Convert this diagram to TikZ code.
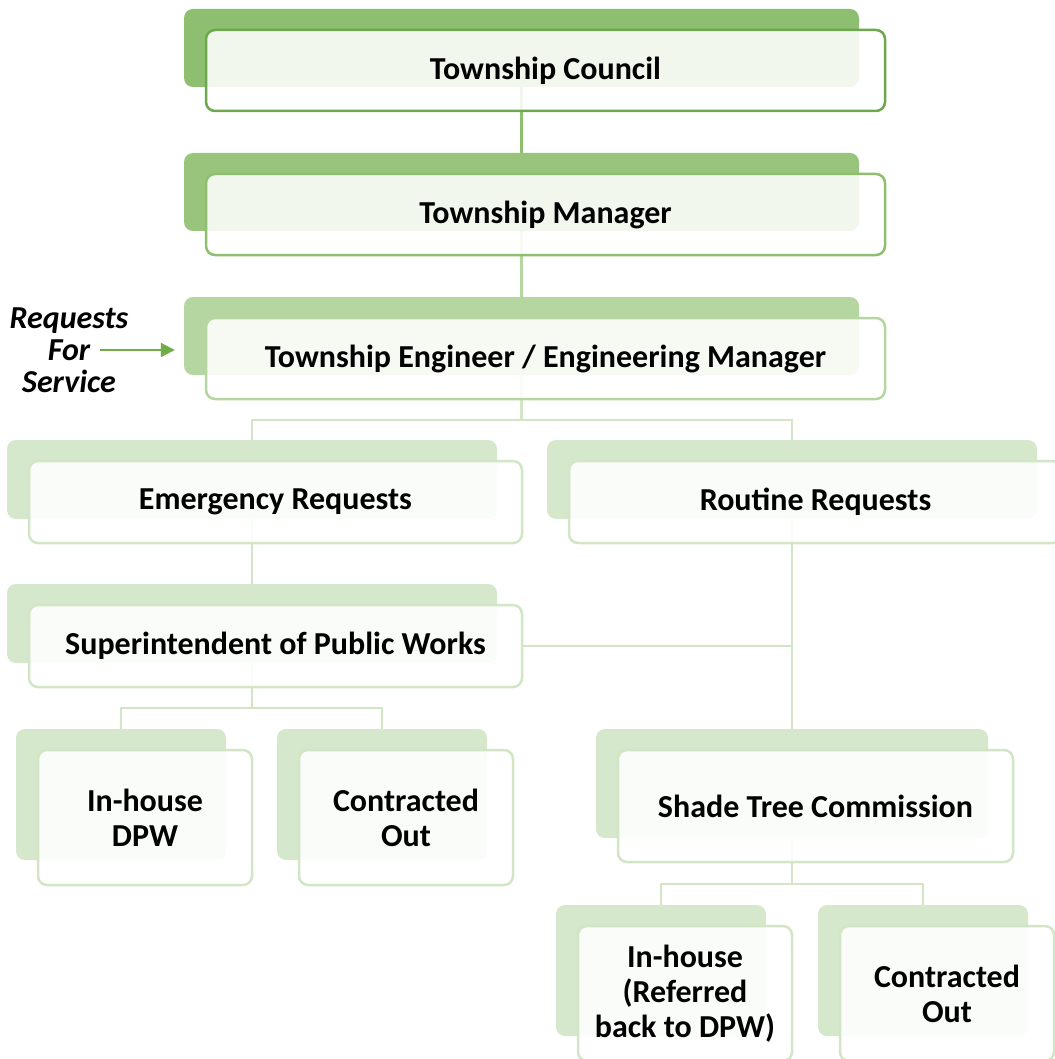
\documentclass[tikz,border=0pt]{standalone}
\usepackage{fontspec}
\setmainfont{Carlito}
\usepackage{tikz}
\usetikzlibrary{positioning,arrows.meta}

\definecolor{topfill}{HTML}{8EBF70}
\definecolor{topline}{HTML}{6EA84E}
\definecolor{mgrfill}{HTML}{98C47B}
\definecolor{mgrline}{HTML}{8DBF6F}
\definecolor{engfill}{HTML}{B5D6A0}
\definecolor{engline}{HTML}{B5D6A0}
\definecolor{lowfill}{HTML}{D5E8CB}
\definecolor{lowline}{HTML}{D2E6C6}
\definecolor{arrowgreen}{HTML}{70AD47}

\tikzset{
  backbox/.style={rounded corners=9pt, inner sep=0pt},
  frontbox/.style={rounded corners=9pt, draw, line width=2.5pt, fill=white,
    fill opacity=0.88, text opacity=1, inner sep=0pt, align=center,
    font=\bfseries\fontsize{32}{35}\selectfont},
  wideB/.style={backbox, minimum width=675pt, minimum height=78pt},
  wideF/.style={frontbox, minimum width=679pt, minimum height=81pt},
  midB/.style={backbox, minimum width=490pt, minimum height=79pt},
  midF/.style={frontbox, minimum width=493pt, minimum height=82pt},
  smallB/.style={backbox, minimum width=210pt, minimum height=131pt},
  smallF/.style={frontbox, minimum width=214pt, minimum height=135pt},
  link/.style={line width=2.5pt}
}

\begin{document}
\begin{tikzpicture}[x=1pt, y=-1pt]
\useasboundingbox (0,0) rectangle (1054,1059);

% back plates
\node[wideB, fill=topfill] (councilB) at (521.5,48) {};
\node[wideB, fill=mgrfill] (managerB) at (521.5,192) {};
\node[wideB, fill=engfill] (engineerB) at (521.5,336) {};
\node[midB, fill=lowfill] (emergencyB) at (252,479.5) {};
\node[midB, fill=lowfill] (routineB) at (792,479.5) {};
\node[midB, fill=lowfill] (superB) at (252,623.5) {};
\node[smallB, fill=lowfill] (dpwB) at (121,794.5) {};
\node[smallB, fill=lowfill] (contractB) at (382,794.5) {};
\node[backbox, fill=lowfill, minimum width=392pt, minimum height=109pt] (shadeB) at (792,783.5) {};
\node[smallB, fill=lowfill] (referB) at (661,970.5) {};
\node[smallB, fill=lowfill] (shadecontractB) at (923,970.5) {};

% connectors
\draw[link, mgrline] (councilB.south) -- (managerB.north);
\draw[link, engfill] (managerB.south) -- (engineerB.north);
\draw[link, lowline] (engineerB.south) -- ++(0,45) -| (emergencyB.north);
\draw[link, lowline] (engineerB.south) ++(0,45) -| (routineB.north);
\draw[link, lowline] (emergencyB.south) -- (superB.north);
\draw[link, lowline] (superB.south) -- ++(0,45) -| (dpwB.north);
\draw[link, lowline] (superB.south) ++(0,45) -| (contractB.north);
\draw[link, lowline] (routineB.south) -- (shadeB.north);
\draw[link, lowline] (shadeB.south) -- ++(0,46) -| (referB.north);
\draw[link, lowline] (shadeB.south) ++(0,46) -| (shadecontractB.north);

% front boxes
\node[wideF, draw=topline] (council) at (545.5,70.5) {Township Council};
\node[wideF, draw=mgrline] (manager) at (545.5,214.5) {Township Manager};
\node[wideF, draw=engline] (engineer) at (545.5,358.5) {Township Engineer / Engineering Manager};
\node[midF, draw=lowline] (emergency) at (275.5,502) {Emergency Requests};
\node[midF, draw=lowline] (routine) at (815.5,502) {Routine Requests};
\node[midF, draw=lowline] (super) at (275.5,646) {Superintendent of Public Works};
\node[smallF, draw=lowline] (dpw) at (145,817.5) {In-house\\DPW};
\node[smallF, draw=lowline] (contract) at (406,817.5) {Contracted\\Out};
\node[frontbox, draw=lowline, minimum width=395pt, minimum height=112pt] (shade) at (815.5,806) {Shade Tree Commission};
\node[smallF, draw=lowline] (refer) at (685,993.5) {In-house\\(Referred\\back to DPW)};
\node[smallF, draw=lowline] (shadecontract) at (947,993.5) {Contracted\\Out};

\draw[link, lowline] (super.east) -- (super.east -| routineB.south);

% requests label
\node[align=center, font=\bfseries\itshape\fontsize{32}{32}\selectfont] (requests) at (69,350) {Requests\\For\\Service};
\draw[line width=2pt, arrowgreen, -{Triangle[length=14pt,width=14pt]}, shorten <=31pt, shorten >=9pt] (requests.center) -- (engineerB.west |- requests.center);
\end{tikzpicture}
\end{document}
